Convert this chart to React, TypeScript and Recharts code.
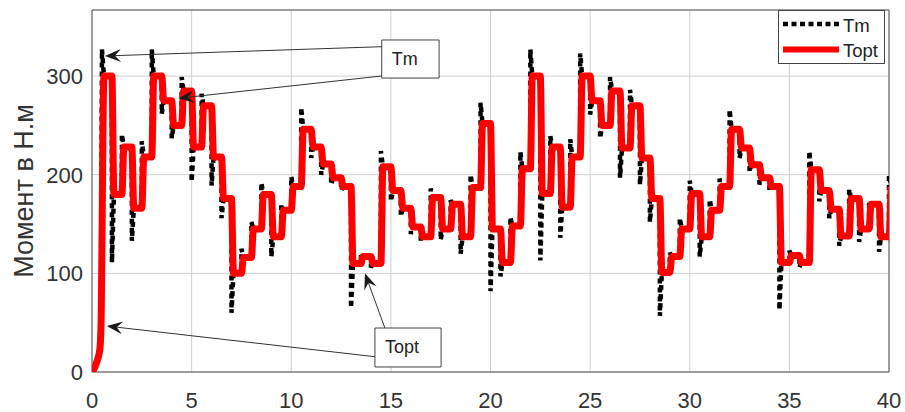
import {
  ComposedChart,
  Line,
  XAxis,
  YAxis,
  CartesianGrid,
  ReferenceArea,
  ReferenceLine,
  Legend,
} from 'recharts'

// instants where the reference torque changes (s)
const stepTimes = [
  0.5, 1, 1.5, 2, 2.5, 3, 3.5, 4, 4.5, 5,
  5.5, 6, 6.5, 7, 7.5, 8, 8.5, 9, 9.5, 10,
  10.5, 11, 11.5, 12, 12.5, 13, 13.5, 14, 14.5, 15,
  15.5, 16, 16.5, 17, 17.5, 18, 18.5, 19, 19.5, 20,
  20.5, 21, 21.5, 22, 22.5, 23, 23.5, 24, 24.5, 25,
  25.5, 26, 26.5, 27, 27.5, 28, 28.5, 29, 29.5, 30,
  30.5, 31, 31.5, 32, 32.5, 33, 33.5, 34, 34.5, 35,
  35.5, 36, 36.5, 37, 37.5, 38, 38.5, 39, 39.5, 40,
]

// Topt level held after each step (N.m)
const toptLevels = [
  300, 180, 228, 166, 218, 300, 275, 250, 285, 228,
  270, 218, 176, 100, 116, 145, 180, 137, 164, 188,
  246, 228, 211, 197, 188, 110, 117, 110, 208, 184,
  166, 147, 137, 177, 145, 170, 137, 187, 252, 145,
  111, 148, 206, 300, 181, 228, 167, 218, 300, 275,
  250, 285, 227, 270, 217, 176, 101, 117, 145, 181,
  137, 164, 188, 246, 227, 210, 197, 188, 111, 118,
  111, 205, 184, 165, 138, 176, 145, 170, 137, 188,
]

// Tm overshoot peak at each step (N.m)
const tmSpikes = [
  327, 111, 241, 133, 234, 327, 262, 237, 299, 193,
  282, 189, 156, 60, 125, 152, 192, 117, 170, 198,
  268, 217, 200, 190, 184, 65, 121, 106, 224, 173,
  158, 140, 133, 186, 134, 174, 120, 200, 273, 82,
  97, 157, 223, 327, 113, 239, 136, 236, 323, 261,
  237, 299, 197, 286, 190, 152, 57, 121, 156, 194,
  117, 175, 196, 266, 217, 203, 190, 184, 63, 123,
  106, 224, 173, 156, 128, 185, 132, 173, 122, 200,
]

// start-up ramp before the first step
const rampTimes = [0, 0.1, 0.2, 0.3, 0.4, 0.45]
const rampTopt = [0, 3, 8, 14, 24, 45]
const rampTm = [0, 3, 8, 14, 26, 60]

const xTicks = [0, 5, 10, 15, 20, 25, 30, 35, 40]
const yTicks = [0, 100, 200, 300]

// annotation anchors (data units), arrow tip is the second point
const tmArrows = [
  [{ x: 14.54, y: 329.8 }, { x: 0.65, y: 320.4 }],
  [{ x: 14.54, y: 300.1 }, { x: 4.33, y: 277.5 }],
]
const toptArrows = [
  [{ x: 14.2, y: 15.5 }, { x: 0.74, y: 46.6 }],
  [{ x: 14.7, y: 44.6 }, { x: 13.7, y: 100 }],
]
const tmBox = { x1: 14.54, x2: 17.42, y1: 298, y2: 336.6 }
const toptBox = { x1: 14.2, x2: 17.52, y1: 5.1, y2: 44.6 }

const RISE = 0.1
const FONT = '"Liberation Sans", Arial, sans-serif'

function buildTopt() {
  const pts = rampTimes.map((t, i) => ({ t, v: rampTopt[i] }))
  stepTimes.forEach((t, k) => {
    if (k > 0) pts.push({ t, v: toptLevels[k - 1] })
    pts.push({ t: t + RISE, v: toptLevels[k] })
  })
  return pts
}

function buildTm() {
  const pts = rampTimes.map((t, i) => ({ t, v: rampTm[i] }))
  stepTimes.forEach((t, k) => {
    if (k > 0) pts.push({ t, v: toptLevels[k - 1] })
    pts.push({ t, v: tmSpikes[k] })
    pts.push({ t: t + RISE, v: toptLevels[k] })
  })
  return pts
}

const Arrow = (props: any) => {
  const { x1, y1, x2, y2 } = props
  if ([x1, y1, x2, y2].some((n) => typeof n !== 'number' || isNaN(n))) return null
  const len = Math.hypot(x2 - x1, y2 - y1)
  const ux = (x2 - x1) / len
  const uy = (y2 - y1) / len
  const L = 16, W = 6.5, N = 10
  const bx = x2 - ux * L, by = y2 - uy * L
  const nx = x2 - ux * N, ny = y2 - uy * N
  const head = `${x2},${y2} ${bx - uy * W},${by + ux * W} ${nx},${ny} ${bx + uy * W},${by - ux * W}`
  return (
    <g>
      <line x1={x1} y1={y1} x2={nx} y2={ny} stroke="#333" strokeWidth={1} />
      <polygon points={head} fill="#1a1a1a" />
    </g>
  )
}

const boxLabel = (text: string) => (p: any) => {
  const vb = p?.viewBox
  if (!vb) return null
  return (
    <text x={vb.x + 10} y={vb.y + vb.height / 2} dominantBaseline="central" fontSize={18} fontFamily={FONT} fill="#222">
      {text}
    </text>
  )
}

const yLabel = (p: any) => {
  const vb = p?.viewBox ?? { x: 0, y: 10, width: 92, height: 362 }
  const cx = vb.x + 33
  const cy = vb.y + vb.height / 2
  return (
    <text x={cx} y={cy} transform={`rotate(-90 ${cx} ${cy})`} textAnchor="middle" fontSize={27} fontFamily={FONT} fill="#333">
      Момент в Н.м
    </text>
  )
}

const LegendBox = () => (
  <svg width={108} height={55} style={{ display: 'block' }}>
    <rect x={0.5} y={0.5} width={106} height={53} fill="#fff" stroke="#444" />
    <line x1={5} y1={14} x2={61} y2={14} stroke="#000" strokeWidth={4.5} strokeDasharray="5 3.5" />
    <line x1={5} y1={39.5} x2={61} y2={39.5} stroke="#ff0000" strokeWidth={6} />
    <text x={65} y={22} fontSize={18.5} fontFamily={FONT} fill="#222">Tm</text>
    <text x={65} y={47} fontSize={18.5} fontFamily={FONT} fill="#222">Topt</text>
  </svg>
)

export default function App() {
  const toptData = buildTopt()
  const tmData = buildTm()
  const tickStyle = { fontSize: 22, fill: '#333', fontFamily: FONT }

  return (
    <div style={{ position: 'absolute', left: 0, top: 0, width: 905, height: 412, background: '#fff' }}>
      <ComposedChart width={905} height={412} margin={{ top: 10, right: 16, bottom: 0, left: 0 }}>
        <CartesianGrid stroke="#cfcfcf" />
        <XAxis
          type="number"
          dataKey="t"
          domain={[0, 40]}
          ticks={xTicks}
          allowDataOverflow
          axisLine={false}
          tickLine={false}
          tickSize={0}
          tickMargin={20}
          height={40}
          tick={tickStyle}
        />
        <YAxis
          type="number"
          dataKey="v"
          domain={[0, 367]}
          ticks={yTicks}
          allowDataOverflow
          axisLine={false}
          tickLine={false}
          tickSize={0}
          tickMargin={9}
          width={92}
          tick={tickStyle}
          label={yLabel}
        />
        <ReferenceArea x1={0} x2={40} y1={0} y2={367} fill="none" stroke="#555" strokeWidth={1} />
        <Line
          data={tmData}
          dataKey="v"
          name="Tm"
          type="linear"
          stroke="#000"
          strokeWidth={4.5}
          strokeDasharray="5 4"
          dot={false}
          activeDot={false}
          isAnimationActive={false}
        />
        <Line
          data={toptData}
          dataKey="v"
          name="Topt"
          type="monotone"
          stroke="#ff0000"
          strokeWidth={7}
          strokeLinejoin="round"
          dot={false}
          activeDot={false}
          isAnimationActive={false}
        />
        {[...tmArrows, ...toptArrows].map((seg, i) => (
          <ReferenceLine key={i} segment={seg} shape={Arrow} />
        ))}
        <ReferenceArea {...tmBox} fill="#fff" fillOpacity={1} stroke="#444" label={boxLabel('Tm')} />
        <ReferenceArea {...toptBox} fill="#fff" fillOpacity={1} stroke="#444" label={boxLabel('Topt')} />
        <Legend
          layout="horizontal"
          verticalAlign="middle"
          align="center"
          content={<LegendBox />}
          wrapperStyle={{ left: 778, top: 10, width: 108, height: 55 }}
        />
      </ComposedChart>
    </div>
  )
}
